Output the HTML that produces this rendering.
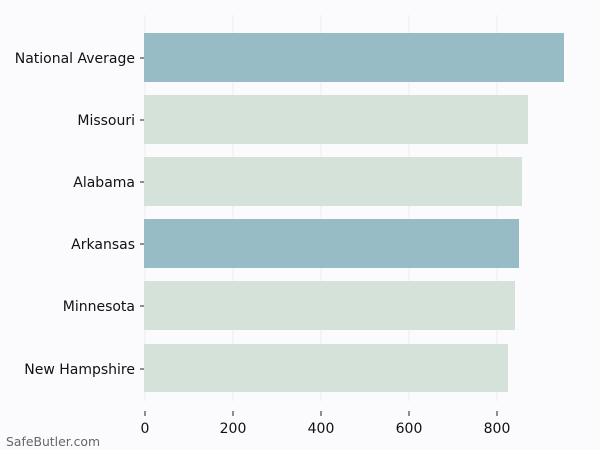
<!DOCTYPE html>
<html><head><style>
html,body{margin:0;padding:0;background:#fbfbfd;}
svg{display:block;font-family:"DejaVu Sans","Liberation Sans",sans-serif;}
</style></head><body>
<svg width="600" height="450" viewBox="0 0 600 450">
<rect width="600" height="450" fill="#fbfbfd"/>
<g stroke="#ececee" stroke-width="1">
<line x1="145" y1="15" x2="145" y2="401"/>
<line x1="233" y1="15" x2="233" y2="401"/>
<line x1="321" y1="15" x2="321" y2="401"/>
<line x1="409" y1="15" x2="409" y2="401"/>
<line x1="497" y1="15" x2="497" y2="401"/>
</g>
<rect x="144" y="33" width="420" height="49" fill="#97bcc5"/>
<rect x="144" y="95" width="384" height="49" fill="#d5e2d9"/>
<rect x="144" y="157" width="378" height="49" fill="#d5e2d9"/>
<rect x="144" y="219" width="375" height="49" fill="#97bcc5"/>
<rect x="144" y="281" width="371" height="49" fill="#d5e2d9"/>
<rect x="144" y="344" width="364" height="48" fill="#d5e2d9"/>
<g stroke="#222" stroke-width="1">
<line x1="140" y1="58" x2="144" y2="58"/>
<line x1="140" y1="120" x2="144" y2="120"/>
<line x1="140" y1="182" x2="144" y2="182"/>
<line x1="140" y1="244" x2="144" y2="244"/>
<line x1="140" y1="306" x2="144" y2="306"/>
<line x1="140" y1="369" x2="144" y2="369"/>
<line x1="145" y1="411" x2="145" y2="416"/>
<line x1="233" y1="411" x2="233" y2="416"/>
<line x1="321" y1="411" x2="321" y2="416"/>
<line x1="409" y1="411" x2="409" y2="416"/>
<line x1="497" y1="411" x2="497" y2="416"/>
</g>
<g font-size="14" fill="#111" text-anchor="end">
<text x="135" y="63">National Average</text>
<text x="135" y="125">Missouri</text>
<text x="135" y="187">Alabama</text>
<text x="135" y="249">Arkansas</text>
<text x="135" y="311">Minnesota</text>
<text x="135" y="374">New Hampshire</text>
</g>
<g font-size="14" fill="#111" text-anchor="middle">
<text x="145" y="433">0</text>
<text x="233" y="433">200</text>
<text x="321" y="433">400</text>
<text x="409" y="433">600</text>
<text x="497" y="433">800</text>
</g>
<text x="6" y="446" font-size="12.4" fill="#666">SafeButler.com</text>
</svg>
</body></html>
